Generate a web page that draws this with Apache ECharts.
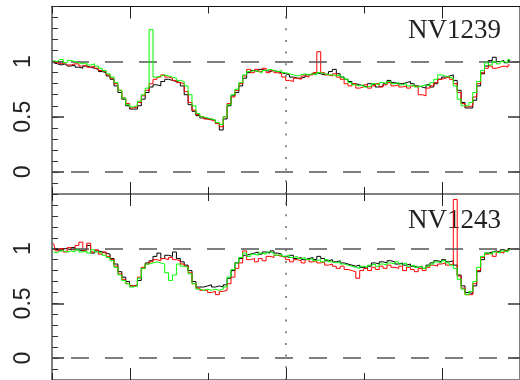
<!DOCTYPE html>
<html><head><meta charset="utf-8">
<script src="https://cdn.jsdelivr.net/npm/echarts@6/dist/echarts.min.js"></script>
<style>html,body{margin:0;padding:0;background:#fff}#c{width:520px;height:380px}</style>
</head><body><div id="c"></div>
<script>
// velocity bins (km/s): start and bin width
const vStart = -2980, vStep = 50;

const panelLabels = ['NV1239', 'NV1243'];
const yTickLabels = [0, 0.5, 1];
const xMajorTicks = [-2000, 0, 2000];

// NV1239 panel
const topBlack = [
0.99,0.98,0.97,0.98,0.96,0.97,0.95,0.94,0.96,0.95,
0.94,0.93,0.91,0.90,0.87,0.84,0.78,0.72,0.66,0.60,
0.57,0.57,0.60,0.66,0.72,0.77,0.79,0.78,0.82,0.84,
0.83,0.82,0.81,0.78,0.70,0.61,0.55,0.51,0.49,0.48,
0.48,0.47,0.44,0.38,0.48,0.60,0.69,0.72,0.78,0.85,
0.90,0.92,0.91,0.93,0.92,0.91,0.92,0.91,0.90,0.89,
0.88,0.86,0.85,0.85,0.86,0.88,0.89,0.90,0.89,0.88,
0.89,0.91,0.93,0.89,0.86,0.84,0.82,0.80,0.79,0.78,
0.77,0.80,0.79,0.77,0.78,0.80,0.83,0.81,0.80,0.80,
0.81,0.82,0.80,0.78,0.77,0.76,0.79,0.77,0.80,0.84,
0.86,0.87,0.88,0.83,0.74,0.63,0.58,0.58,0.65,0.78,
0.89,0.96,1.01,1.04,1.00,1.01,0.99,1.01];
const topRed = [
1.00,0.99,0.98,0.99,0.97,0.98,0.98,0.96,0.97,0.95,
0.96,0.94,0.92,0.91,0.88,0.85,0.80,0.74,0.67,0.62,
0.58,0.59,0.63,0.69,0.74,0.80,0.84,0.86,0.88,0.86,
0.85,0.83,0.81,0.80,0.73,0.63,0.56,0.52,0.50,0.48,
0.47,0.46,0.44,0.41,0.50,0.62,0.68,0.74,0.80,0.87,
0.93,0.90,0.93,0.91,0.94,0.90,0.92,0.90,0.89,0.86,
0.83,0.82,0.85,0.84,0.87,0.86,0.88,0.90,1.09,0.90,
0.88,0.87,0.89,0.86,0.84,0.80,0.78,0.80,0.76,0.77,
0.79,0.76,0.78,0.80,0.77,0.79,0.81,0.78,0.79,0.77,
0.78,0.76,0.78,0.77,0.70,0.69,0.76,0.78,0.81,0.84,
0.85,0.86,0.84,0.80,0.72,0.62,0.59,0.60,0.68,0.80,
0.90,0.94,0.96,0.94,0.95,0.96,0.95,0.97];
const topGreen = [
1.01,1.00,1.02,0.99,1.01,1.00,0.99,0.98,0.99,0.97,
0.98,0.96,0.94,0.92,0.89,0.86,0.81,0.74,0.67,0.61,
0.59,0.60,0.64,0.70,0.76,1.29,0.86,0.87,0.88,0.87,
0.86,0.85,0.83,0.82,0.78,0.70,0.60,0.53,0.50,0.49,
0.48,0.47,0.45,0.43,0.50,0.61,0.70,0.75,0.81,0.88,
0.91,0.92,0.91,0.90,0.92,0.93,0.92,0.91,0.92,0.90,
0.89,0.88,0.87,0.88,0.89,0.88,0.89,0.88,0.90,0.89,
0.88,0.88,0.87,0.88,0.86,0.84,0.81,0.79,0.78,0.79,
0.77,0.78,0.80,0.79,0.81,0.80,0.82,0.80,0.81,0.79,
0.80,0.78,0.79,0.77,0.78,0.79,0.78,0.81,0.84,0.88,
0.87,0.86,0.85,0.78,0.66,0.60,0.60,0.63,0.72,0.82,
0.92,0.99,0.97,1.00,0.98,1.00,0.99,1.02];

// NV1243 panel
const botBlack = [
1.00,0.99,0.98,1.00,0.99,1.01,0.99,0.98,0.99,1.03,
0.96,0.98,0.97,0.96,0.95,0.91,0.86,0.79,0.74,0.70,
0.66,0.66,0.71,0.82,0.87,0.89,0.93,0.96,0.91,0.94,
0.93,0.97,0.91,0.88,0.85,0.80,0.70,0.65,0.65,0.66,
0.67,0.65,0.66,0.65,0.67,0.73,0.80,0.87,0.91,0.94,
0.95,0.96,0.97,0.95,0.97,0.96,0.98,0.96,0.95,0.93,
0.92,0.94,0.91,0.92,0.90,0.91,0.92,0.90,0.93,0.91,
0.89,0.90,0.88,0.89,0.87,0.86,0.85,0.84,0.85,0.83,
0.82,0.84,0.87,0.86,0.88,0.87,0.89,0.88,0.86,0.87,
0.85,0.86,0.84,0.83,0.84,0.82,0.85,0.87,0.89,0.88,
0.90,0.88,0.89,0.85,0.76,0.66,0.60,0.59,0.66,0.79,
0.90,0.96,0.97,0.98,0.97,0.99,0.98,1.00];
const botRed = [
1.05,0.98,1.00,0.97,1.01,0.99,1.03,1.06,0.98,1.05,
0.97,0.99,0.95,0.97,0.93,0.90,0.84,0.77,0.72,0.68,
0.66,0.67,0.74,0.83,0.86,0.88,0.90,0.89,0.91,0.90,
0.92,0.90,0.89,0.86,0.84,0.78,0.68,0.64,0.62,0.62,
0.60,0.61,0.58,0.61,0.62,0.68,0.74,0.82,0.87,0.98,
0.90,0.91,0.88,0.91,0.89,0.93,0.92,0.94,0.93,0.92,
0.90,0.88,0.90,0.89,0.87,0.90,0.88,0.89,0.87,0.88,
0.85,0.86,0.84,0.82,0.84,0.81,0.80,0.79,0.73,0.80,
0.82,0.80,0.83,0.81,0.84,0.82,0.85,0.83,0.82,0.84,
0.80,0.83,0.81,0.79,0.82,0.80,0.83,0.85,0.84,0.86,
0.87,0.85,0.86,1.45,0.75,0.64,0.58,0.58,0.68,0.80,
0.92,0.95,0.96,0.93,0.97,0.96,0.98,0.99];
const botGreen = [
0.97,0.96,0.98,0.97,0.98,0.97,0.99,0.97,0.98,0.96,
0.99,0.97,0.96,0.94,0.92,0.89,0.83,0.76,0.71,0.68,
0.65,0.66,0.73,0.82,0.86,0.87,0.88,0.87,0.86,0.78,
0.71,0.76,0.86,0.84,0.83,0.77,0.68,0.63,0.62,0.63,
0.62,0.63,0.62,0.63,0.65,0.74,0.81,0.87,0.92,0.96,
0.93,0.95,0.94,0.96,0.95,0.97,0.96,0.94,0.95,0.93,
0.94,0.92,0.93,0.91,0.92,0.90,0.91,0.89,0.90,0.88,
0.90,0.88,0.87,0.88,0.86,0.85,0.84,0.83,0.82,0.84,
0.83,0.85,0.86,0.84,0.86,0.85,0.87,0.86,0.88,0.86,
0.87,0.84,0.85,0.83,0.84,0.82,0.84,0.86,0.88,0.87,
0.89,0.87,0.85,0.82,0.72,0.63,0.58,0.61,0.70,0.83,
0.93,0.96,0.95,0.97,0.96,0.98,0.97,0.99];

const panels = [[topBlack, topRed, topGreen], [botBlack, botRed, botGreen]];
const colors = ['#000000', '#ff0000', '#00ff00'];

function pairs(arr) { return arr.map((v, i) => [vStart + i * vStep, v]); }

const grids = [
  {left: 52, top: 6.5, width: 475, height: 187.5},
  {left: 52, top: 194, width: 475, height: 187.7}
];
const xAxis = [], yAxis = [], series = [];
grids.forEach((g, gi) => {
  const xb = {gridIndex: gi, type: 'value', min: -3000, max: 3000, axisLabel: {show: false}, splitLine: {show: false}};
  const topLine = gi === 0 ? {show: true, onZero: false, lineStyle: {color: '#111', width: 1}} : {show: false, onZero: false};
  xAxis.push(Object.assign({}, xb, {position: 'bottom', interval: 1000,
    axisLine: {show: true, onZero: false, lineStyle: {color: '#808080', width: 2}},
    axisTick: {show: true, inside: true, length: 7, lineStyle: {color: '#222', width: 1}}}));
  xAxis.push(Object.assign({}, xb, {position: 'bottom',
    axisLine: {show: false, onZero: false},
    axisTick: {show: true, inside: true, length: 12, customValues: xMajorTicks, lineStyle: {color: '#222', width: 1}}}));
  xAxis.push(Object.assign({}, xb, {position: 'top', interval: 1000,
    axisLine: topLine,
    axisTick: {show: true, inside: true, length: 7, lineStyle: {color: '#222', width: 1}}}));
  xAxis.push(Object.assign({}, xb, {position: 'top',
    axisLine: {show: false, onZero: false},
    axisTick: {show: true, inside: true, length: 12, customValues: xMajorTicks, lineStyle: {color: '#222', width: 1}}}));

  const yb = {gridIndex: gi, type: 'value', min: -0.2, max: 1.5, splitLine: {show: false}};
  yAxis.push(Object.assign({}, yb, {position: 'left',
    axisLine: {show: true, onZero: false, lineStyle: {color: '#555', width: 1.5}},
    axisTick: {show: true, inside: true, length: 12, customValues: yTickLabels, lineStyle: {color: '#333', width: 1.5}},
    axisLabel: {show: true, customValues: yTickLabels, rotate: 90, margin: 17, fontSize: 23,
      fontFamily: 'Liberation Sans', color: '#222'}}));
  yAxis.push(Object.assign({}, yb, {position: 'left', interval: 0.1,
    axisLine: {show: false, onZero: false},
    axisTick: {show: true, inside: true, length: 6, lineStyle: {color: '#333', width: 1}},
    axisLabel: {show: false}}));
  yAxis.push(Object.assign({}, yb, {position: 'right',
    axisLine: {show: true, onZero: false, lineStyle: {color: '#555', width: 1.5}},
    axisTick: {show: true, inside: true, length: 12, customValues: yTickLabels, lineStyle: {color: '#333', width: 1.5}},
    axisLabel: {show: false}}));

  panels[gi].forEach((arr, si) => {
    const s = {
      type: 'line', xAxisIndex: gi * 4, yAxisIndex: gi * 3, step: 'middle',
      data: pairs(arr), symbol: 'none', showSymbol: false, silent: true, animation: false,
      lineStyle: {color: colors[si], width: 1}, z: 3 + si
    };
    if (si === 0) {
      s.markLine = {
        silent: true, symbol: ['none', 'none'], label: {show: false}, animation: false,
        data: [
          {yAxis: 1, lineStyle: {color: '#555', width: 1.5, type: [18, 16], dashOffset: 15}},
          {yAxis: 0, lineStyle: {color: '#555', width: 1.5, type: [18, 16], dashOffset: 15}},
          {xAxis: 0, lineStyle: {color: '#666', width: 1.5, type: [2, 9.7]}}
        ]
      };
    }
    series.push(s);
  });
});

const chart = echarts.init(document.getElementById('c'), null, {renderer: 'canvas'});
chart.setOption({
  animation: false,
  backgroundColor: '#fff',
  grid: grids,
  xAxis: xAxis,
  yAxis: yAxis,
  series: series,
  graphic: [
    {type: 'text', z: 0, style: {text: panelLabels[0], x: 408, y: 30.5, font: '27px "Liberation Serif"', fill: '#222', textVerticalAlign: 'middle'}},
    {type: 'text', z: 0, style: {text: panelLabels[1], x: 408, y: 221, font: '27px "Liberation Serif"', fill: '#222', textVerticalAlign: 'middle'}}
  ]
});
</script></body></html>
